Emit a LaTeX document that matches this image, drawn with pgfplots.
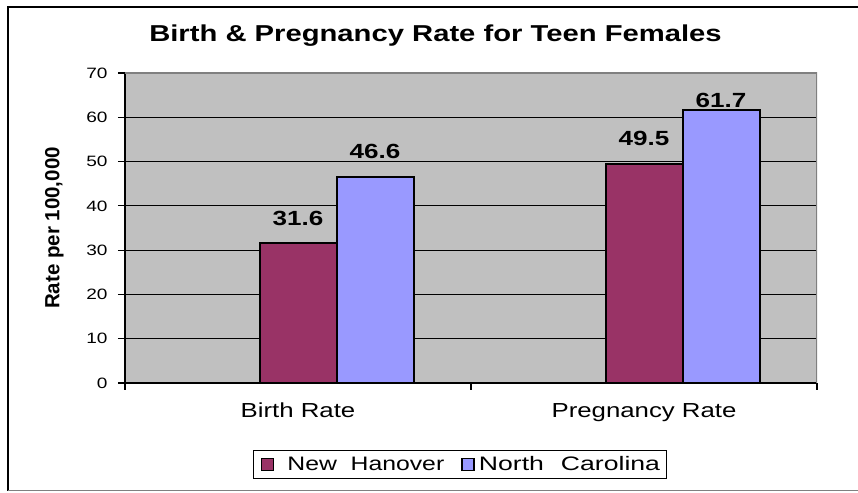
\documentclass[border=0pt]{standalone}
\usepackage{graphicx}
\usepackage{fontspec}
\setmainfont{Liberation Sans}
\usepackage{pgfplots}
\pgfplotsset{compat=1.18}
\definecolor{plum}{HTML}{993366}
\definecolor{lavender}{HTML}{9999FF}
\definecolor{plotgray}{HTML}{C0C0C0}
\newcommand{\sx}[1]{\scalebox{1.27}[1]{#1}}
\begin{document}
\begin{tikzpicture}
\useasboundingbox (0pt,0pt) rectangle (858pt,492pt);
\begin{axis}[at={(125pt,109pt)}, anchor=south west,
  scale only axis, width=692pt, height=310pt,
  xmin=-0.5, xmax=1.5, ymin=0, ymax=70,
  axis lines*=left, axis line style={line width=1.4pt, black},
  axis background/.style={fill=plotgray},
  /pgf/number format/assume math mode=true,
  ytick={0,10,...,70}, yticklabel={\sx{\pgfmathprintnumber{\tick}}},
  yticklabel style={font=\fontsize{15pt}{18pt}\selectfont, xshift=-7pt},
  ymajorgrids, grid style={black, line width=1.2pt},
  major tick length=7pt, tick align=outside, tick style={black, line width=1.2pt},
  xtick={-0.5,0.5,1.5}, xticklabels={},
  extra x ticks={0,1}, extra x tick labels={\sx{Birth Rate},\sx{Pregnancy Rate}},
  extra x tick style={major tick length=0pt, grid=none,
    tick label style={anchor=base, yshift=-34pt, font=\fontsize{20.3pt}{23pt}\selectfont}},
  ylabel={Rate per 100,000},
  ylabel style={at={(axis description cs:-0.102,0.5)}, anchor=center,
    font=\bfseries\fontsize{20.5pt}{23pt}\selectfont},
  title={\sx{Birth \& Pregnancy Rate for Teen Females}},
  title style={at={(axis description cs:0.4487,1)}, anchor=base, yshift=25pt,
    font=\bfseries\fontsize{23pt}{27pt}\selectfont},
  ybar, bar width=77pt,
  visualization depends on={rawy \as \rawy},
  nodes near coords={\sx{\pgfmathprintnumber[fixed,fixed zerofill,precision=1]{\pgfplotspointmeta}}},
  every node near coord/.append style={font=\bfseries\fontsize{20.5pt}{24pt}\selectfont,
    anchor=base, yshift={ifthenelse(\rawy>60,2,18)*1pt}, black},
  legend columns=2,
  legend style={at={(axis description cs:0.484,-0.263)}, anchor=center,
    draw=black, line width=0.8pt, inner xsep=7pt, inner ysep=4pt,
    font=\fontsize{19.5pt}{22pt}\selectfont,
    /tikz/every odd column/.append style={column sep=2pt},
    /tikz/every even column/.append style={column sep=15pt}},
  legend image code/.code={\draw[#1, line width=1.6pt] (0pt,-6pt) rectangle (12pt,6pt);},
]
\addplot[fill=plum, draw=black, line width=2pt, bar shift=0pt]
  coordinates {(0,31.6) (1,49.5)};
\addplot[fill=lavender, draw=black, line width=2pt, bar shift=77pt]
  coordinates {(0,46.6) (1,61.7)};
\legend{\hspace*{9pt}\sx{New\ \ Hanover},\scalebox{1.364}[1]{North\hspace{12.5pt}Carolina}\hspace*{-3pt}}
\draw[gray, line width=1.2pt] (rel axis cs:0,1) -- (rel axis cs:1,1) -- (rel axis cs:1,0);
\end{axis}
\draw[black, line width=1.4pt] (870pt,485pt) -- (8pt,485pt) -- (8pt,1.5pt);
\draw[gray, line width=1.2pt] (8pt,1.5pt) -- (870pt,1.5pt);
\end{tikzpicture}
\end{document}
